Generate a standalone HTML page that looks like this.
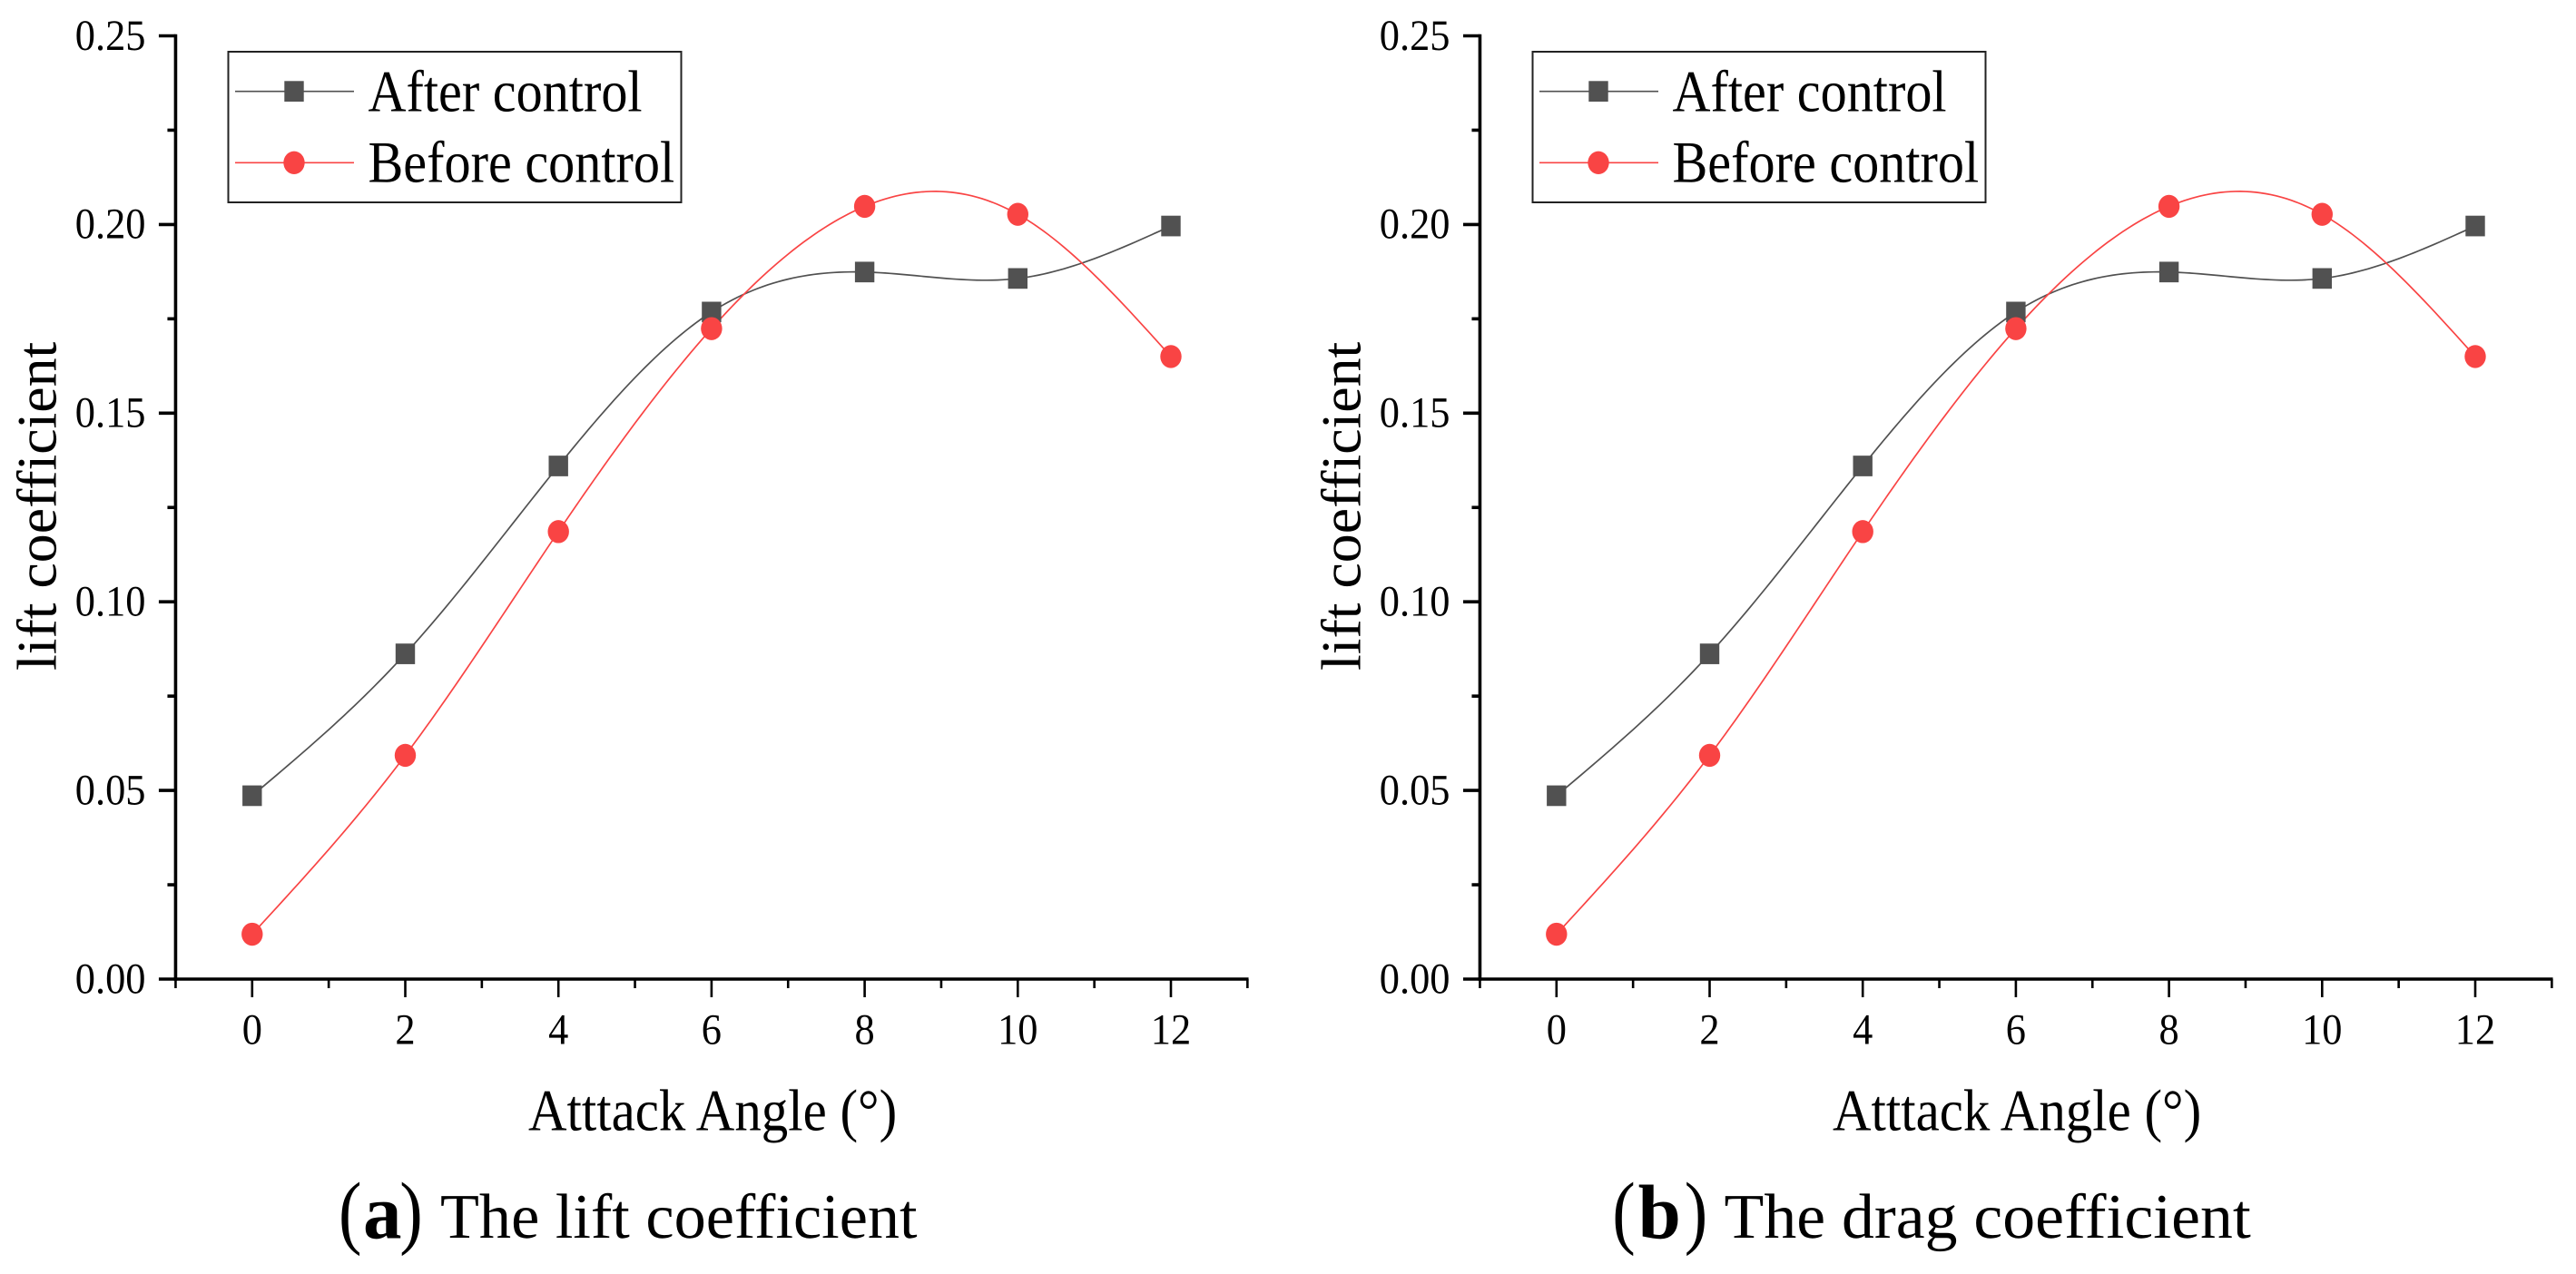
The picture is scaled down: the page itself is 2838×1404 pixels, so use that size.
<!DOCTYPE html>
<html lang="en">
<head>
<meta charset="utf-8">
<title>Lift and drag coefficient charts</title>
<style>
html,body{margin:0;padding:0;background:#fff;}
svg{display:block;}
text{font-family:"Liberation Serif",serif;fill:#000;text-rendering:geometricPrecision;}
</style>
</head>
<body>
<svg id="figure" xmlns="http://www.w3.org/2000/svg" width="2838" height="1404" viewBox="0 0 2838 1404">
  <rect width="2838" height="1404" fill="#fff"/>

  <g id="panel-a">
    <g class="axes"></g>
    <g class="marks"></g>
    <g>
      <rect x="251.5" y="57" width="499" height="166" fill="#fff" stroke="#222" stroke-width="2"/>
      <line x1="259" x2="390" y1="100.7" y2="100.7" stroke="#515151" stroke-width="1.6"/>
      <rect x="313.3" y="89.3" width="21.4" height="22.7" fill="#515151"/>
      <text transform="translate(405.5 122.7) scale(.895 1)" font-size="65">After control</text>
      <line x1="259" x2="390" y1="179.3" y2="179.3" stroke="#f94444" stroke-width="1.6"/>
      <ellipse cx="324" cy="179.3" rx="11.7" ry="12.7" fill="#f94444"/>
      <text transform="translate(405.5 200.5) scale(.895 1)" font-size="65">Before control</text>
    </g>
    <text transform="translate(61.7 739) rotate(-90) scale(1.03 1)" font-size="62">lift coefficient</text>
    <text transform="translate(582 1245.5) scale(.906 1)" font-size="65">Atttack Angle (°)</text>
    <g>
      <text transform="translate(373 1365) scale(.85 1)" font-size="90">(</text>
      <text transform="translate(400 1364.5)" font-size="85" font-weight="bold">a</text>
      <text transform="translate(440.2 1365) scale(.85 1)" font-size="90">)</text>
      <text transform="translate(485 1364) scale(1.004 1)" font-size="70">The lift coefficient</text>
    </g>
  </g>

  <g id="panel-b" transform="translate(1437 0)">
    <g class="axes"></g>
    <g class="marks"></g>
    <g>
      <rect x="251.5" y="57" width="499" height="166" fill="#fff" stroke="#222" stroke-width="2"/>
      <line x1="259" x2="390" y1="100.7" y2="100.7" stroke="#515151" stroke-width="1.6"/>
      <rect x="313.3" y="89.3" width="21.4" height="22.7" fill="#515151"/>
      <text transform="translate(405.5 122.7) scale(.895 1)" font-size="65">After control</text>
      <line x1="259" x2="390" y1="179.3" y2="179.3" stroke="#f94444" stroke-width="1.6"/>
      <ellipse cx="324" cy="179.3" rx="11.7" ry="12.7" fill="#f94444"/>
      <text transform="translate(405.5 200.5) scale(.895 1)" font-size="65">Before control</text>
    </g>
    <text transform="translate(61.7 739) rotate(-90) scale(1.03 1)" font-size="62">lift coefficient</text>
    <text transform="translate(582 1245.5) scale(.906 1)" font-size="65">Atttack Angle (°)</text>
  </g>

  <g>
    <text transform="translate(1776.3 1365) scale(.85 1)" font-size="90">(</text>
    <text transform="translate(1804.6 1364.5)" font-size="85" font-weight="bold">b</text>
    <text transform="translate(1855.8 1365) scale(.85 1)" font-size="90">)</text>
    <text transform="translate(1899.5 1364) scale(1.025 1)" font-size="70">The drag coefficient</text>
  </g>
</svg>

<script>
const angles = [0, 2, 4, 6, 8, 10, 12];
const liftAfter = [0.0486, 0.0862, 0.1360, 0.1768, 0.1874, 0.1857, 0.1996];
const liftBefore = [0.0119, 0.0593, 0.1186, 0.1724, 0.2048, 0.2027, 0.1650];
const dragAfter = [0.0486, 0.0862, 0.1360, 0.1768, 0.1874, 0.1857, 0.1996];
const dragBefore = [0.0119, 0.0593, 0.1186, 0.1724, 0.2048, 0.2027, 0.1650];
const xMajorTicks = [0, 2, 4, 6, 8, 10, 12];
const xMinorTicks = [-1, 1, 3, 5, 7, 9, 11, 13];
const yMajorTicks = [0, 0.05, 0.10, 0.15, 0.20, 0.25];
const yMinorTicks = [0.025, 0.075, 0.125, 0.175, 0.225];
const yTickLabels = ['0.00', '0.05', '0.10', '0.15', '0.20', '0.25'];

const SVG_NS = 'http://www.w3.org/2000/svg';
const xAxis = v => 277.8 + (v - 0) * 84.35;
const yAxis = v => 1079 - v * 4158;

function make(tag, parent, attrs) {
  const node = document.createElementNS(SVG_NS, tag);
  for (const key in attrs) node.setAttribute(key, attrs[key]);
  parent.appendChild(node);
  return node;
}

// Natural cubic spline through the data points
function splinePath(xs, ys) {
  const n = xs.length;
  const h = [], a = [], b = [], c = [], d = [], m = new Array(n).fill(0);
  for (let i = 0; i < n - 1; i++) h[i] = xs[i + 1] - xs[i];
  for (let i = 1; i < n - 1; i++) {
    a[i] = h[i - 1];
    b[i] = 2 * (h[i - 1] + h[i]);
    c[i] = h[i];
    d[i] = 6 * ((ys[i + 1] - ys[i]) / h[i] - (ys[i] - ys[i - 1]) / h[i - 1]);
  }
  for (let i = 2; i < n - 1; i++) {
    const f = a[i] / b[i - 1];
    b[i] -= f * c[i - 1];
    d[i] -= f * d[i - 1];
  }
  for (let i = n - 2; i >= 1; i--) {
    m[i] = (d[i] - (i < n - 2 ? c[i] * m[i + 1] : 0)) / b[i];
  }
  let path = 'M' + xAxis(xs[0]).toFixed(2) + ' ' + yAxis(ys[0]).toFixed(2);
  for (let i = 0; i < n - 1; i++) {
    for (let s = 1; s <= 30; s++) {
      const t = s / 30;
      const A = 1 - t, B = t;
      const y = A * ys[i] + B * ys[i + 1] +
        ((A * A * A - A) * m[i] + (B * B * B - B) * m[i + 1]) * h[i] * h[i] / 6;
      const x = xs[i] + t * h[i];
      path += 'L' + xAxis(x).toFixed(2) + ' ' + yAxis(y).toFixed(2);
    }
  }
  return path;
}

function drawAxes(group) {
  const frameX = xAxis(-1);
  const frameRight = xAxis(13);
  const yLine = make('line', group, { x1: frameX, x2: frameX, y1: yAxis(0.25) - 1.7, y2: yAxis(0) + 1.7, stroke: '#000', 'stroke-width': 3.6 });
  
  
  const xLine = make('line', group, { x1: frameX - 1.8, x2: frameRight + 1.2, y1: yAxis(0), y2: yAxis(0), stroke: '#000', 'stroke-width': 3.6 });
  
  

  xMajorTicks.forEach(v => {
    const tick = make('line', group, { x1: xAxis(v), x2: xAxis(v), y1: yAxis(0), y2: yAxis(0) + 20, stroke: '#000', 'stroke-width': 2.6 });
    
    
    const label = make('text', group, { 'text-anchor': 'middle', 'font-size': 48, transform: 'translate(' + xAxis(v) + ' 1150.7) scale(.925 1)' });
    
    
    label.textContent = String(v);
  });
  xMinorTicks.forEach(v => {
    const tick = make('line', group, { x1: xAxis(v), x2: xAxis(v), y1: yAxis(0), y2: yAxis(0) + 10, stroke: '#000', 'stroke-width': 2.6 });
    
    
  });
  yMajorTicks.forEach((v, i) => {
    const tick = make('line', group, { x1: frameX - 18.5, x2: frameX, y1: yAxis(v), y2: yAxis(v), stroke: '#000', 'stroke-width': 3.6 });
    
    
    const label = make('text', group, { 'text-anchor': 'end', 'font-size': 48, transform: 'translate(160.5 ' + (yAxis(v) + 15.3) + ') scale(.925 1)' });
    
    
    label.textContent = yTickLabels[i];
  });
  yMinorTicks.forEach(v => {
    const tick = make('line', group, { x1: frameX - 9, x2: frameX, y1: yAxis(v), y2: yAxis(v), stroke: '#000', 'stroke-width': 3.6 });
    
    
  });
}

function drawSeries(group, afterValues, beforeValues) {
  const afterLine = make('path', group, { d: splinePath(angles, afterValues), fill: 'none', stroke: '#515151', 'stroke-width': 1.7 });
  
  
  const beforeLine = make('path', group, { d: splinePath(angles, beforeValues), fill: 'none', stroke: '#f94444', 'stroke-width': 1.7 });
  
  
  angles.forEach((a, i) => {
    const square = make('rect', group, { x: xAxis(a) - 10.7, y: yAxis(afterValues[i]) - 11.35, width: 21.4, height: 22.7, fill: '#515151' });
    
    
  });
  angles.forEach((a, i) => {
    const dot = make('ellipse', group, { cx: xAxis(a), cy: yAxis(beforeValues[i]), rx: 11.7, ry: 12.7, fill: '#f94444' });
    
    
  });
}

const panelA = document.getElementById('panel-a');
const panelB = document.getElementById('panel-b');
drawAxes(panelA.querySelector('.axes'));
drawSeries(panelA.querySelector('.marks'), liftAfter, liftBefore);
drawAxes(panelB.querySelector('.axes'));
drawSeries(panelB.querySelector('.marks'), dragAfter, dragBefore);
</script>
</body>
</html>
